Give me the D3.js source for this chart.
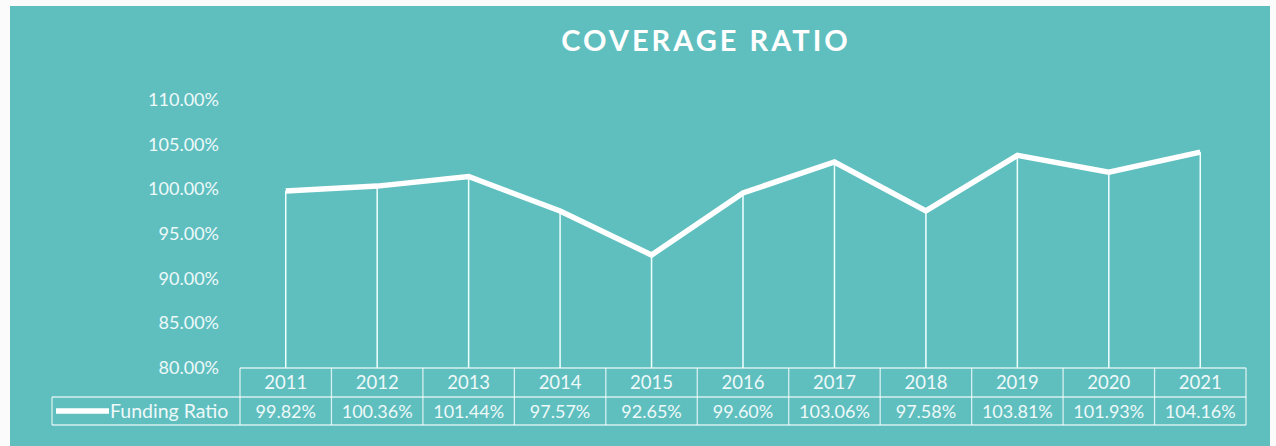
<!DOCTYPE html>
<html><head><meta charset="utf-8">
<script src="https://cdn.jsdelivr.net/npm/d3@7"></script>
<style>body{margin:0;background:#fbfbfb;}svg{display:block;}</style>
</head><body>
<svg id="c" width="1276" height="446"></svg>
<script>
const years = ["2011","2012","2013","2014","2015","2016","2017","2018","2019","2020","2021"];
const fundingRatio = [99.82,100.36,101.44,97.57,92.65,99.60,103.06,97.58,103.81,101.93,104.16];
const valueLabels = ["99.82%","100.36%","101.44%","97.57%","92.65%","99.60%","103.06%","97.58%","103.81%","101.93%","104.16%"];
const yTicks = [80,85,90,95,100,105,110];
const seriesName = "Funding Ratio";
const title = "COVERAGE RATIO";

const svg = d3.select("#c");
const teal = "#5fbfbf";
const font = "Lato, 'Open Sans', sans-serif";
const txt = "#eef9f9";
svg.append("rect").attr("x",10).attr("y",6).attr("width",1260).attr("height",446).attr("fill",teal);

const x = d3.scaleBand().domain(years).range([240,1246]).padding(0);
const y = d3.scaleLinear().domain([80,110]).range([368,100]);

svg.append("text").attr("x",706).attr("y",51).attr("text-anchor","middle")
  .attr("fill","#fff").attr("font-family",font).attr("font-weight","bold")
  .attr("font-size",29).attr("letter-spacing",3).text(title);

// y axis
const ya = svg.append("g").attr("transform","translate(219,0)")
  .call(d3.axisLeft(y).tickValues(yTicks).tickSize(0).tickPadding(0).tickFormat(d=>d.toFixed(2)+"%"));
ya.select(".domain").remove();
ya.selectAll("text").attr("fill",txt).attr("font-family",font).attr("font-size",18).attr("dy","0.3em");

// drop lines
svg.append("g").selectAll("line").data(years).join("line")
  .attr("x1",d=>x(d)+x.bandwidth()/2).attr("x2",d=>x(d)+x.bandwidth()/2)
  .attr("y1",(d,i)=>y(fundingRatio[i])).attr("y2",y(80))
  .attr("stroke","#f0ffff").attr("stroke-width",1.5);

// line
const line = d3.line().x((d,i)=>x(years[i])+x.bandwidth()/2).y(d=>y(d));
svg.append("path").datum(fundingRatio).attr("d",line).attr("fill","none")
  .attr("stroke","#fff").attr("stroke-width",5.5).attr("stroke-linejoin","miter");

// data table
const rowTop = 368, rowMid = 397, rowBot = 425, legLeft = 52;
const g = svg.append("g").attr("stroke","rgba(255,255,255,0.75)").attr("stroke-width",1.3).attr("fill","none");
g.append("line").attr("x1",240).attr("x2",1246).attr("y1",rowTop).attr("y2",rowTop);
g.append("line").attr("x1",legLeft).attr("x2",1246).attr("y1",rowMid).attr("y2",rowMid);
g.append("line").attr("x1",legLeft).attr("x2",1246).attr("y1",rowBot).attr("y2",rowBot);
g.append("line").attr("x1",legLeft).attr("x2",legLeft).attr("y1",rowMid).attr("y2",rowBot);
g.selectAll("line.v").data(years.concat(["end"])).join("line").attr("class","v")
  .attr("x1",(d,i)=>i<years.length?x(d):x.range()[1]).attr("x2",(d,i)=>i<years.length?x(d):x.range()[1])
  .attr("y1",rowTop).attr("y2",rowBot);

svg.append("g").selectAll("text").data(years).join("text")
  .attr("x",d=>x(d)+x.bandwidth()/2).attr("y",(rowTop+rowMid)/2+6.5).attr("text-anchor","middle")
  .attr("fill",txt).attr("font-family",font).attr("font-size",18.5).text(d=>d);
svg.append("g").selectAll("text").data(valueLabels).join("text")
  .attr("x",(d,i)=>x(years[i])+x.bandwidth()/2).attr("y",(rowMid+rowBot)/2+6.5).attr("text-anchor","middle")
  .attr("fill",txt).attr("font-family",font).attr("font-size",18).text(d=>d);

// legend
svg.append("line").attr("x1",56).attr("x2",109).attr("y1",411).attr("y2",411)
  .attr("stroke","#fff").attr("stroke-width",5.5);
svg.append("text").attr("x",110).attr("y",417.5).attr("fill",txt)
  .attr("font-family",font).attr("font-size",19.5).text(seriesName);
</script>
</body></html>
